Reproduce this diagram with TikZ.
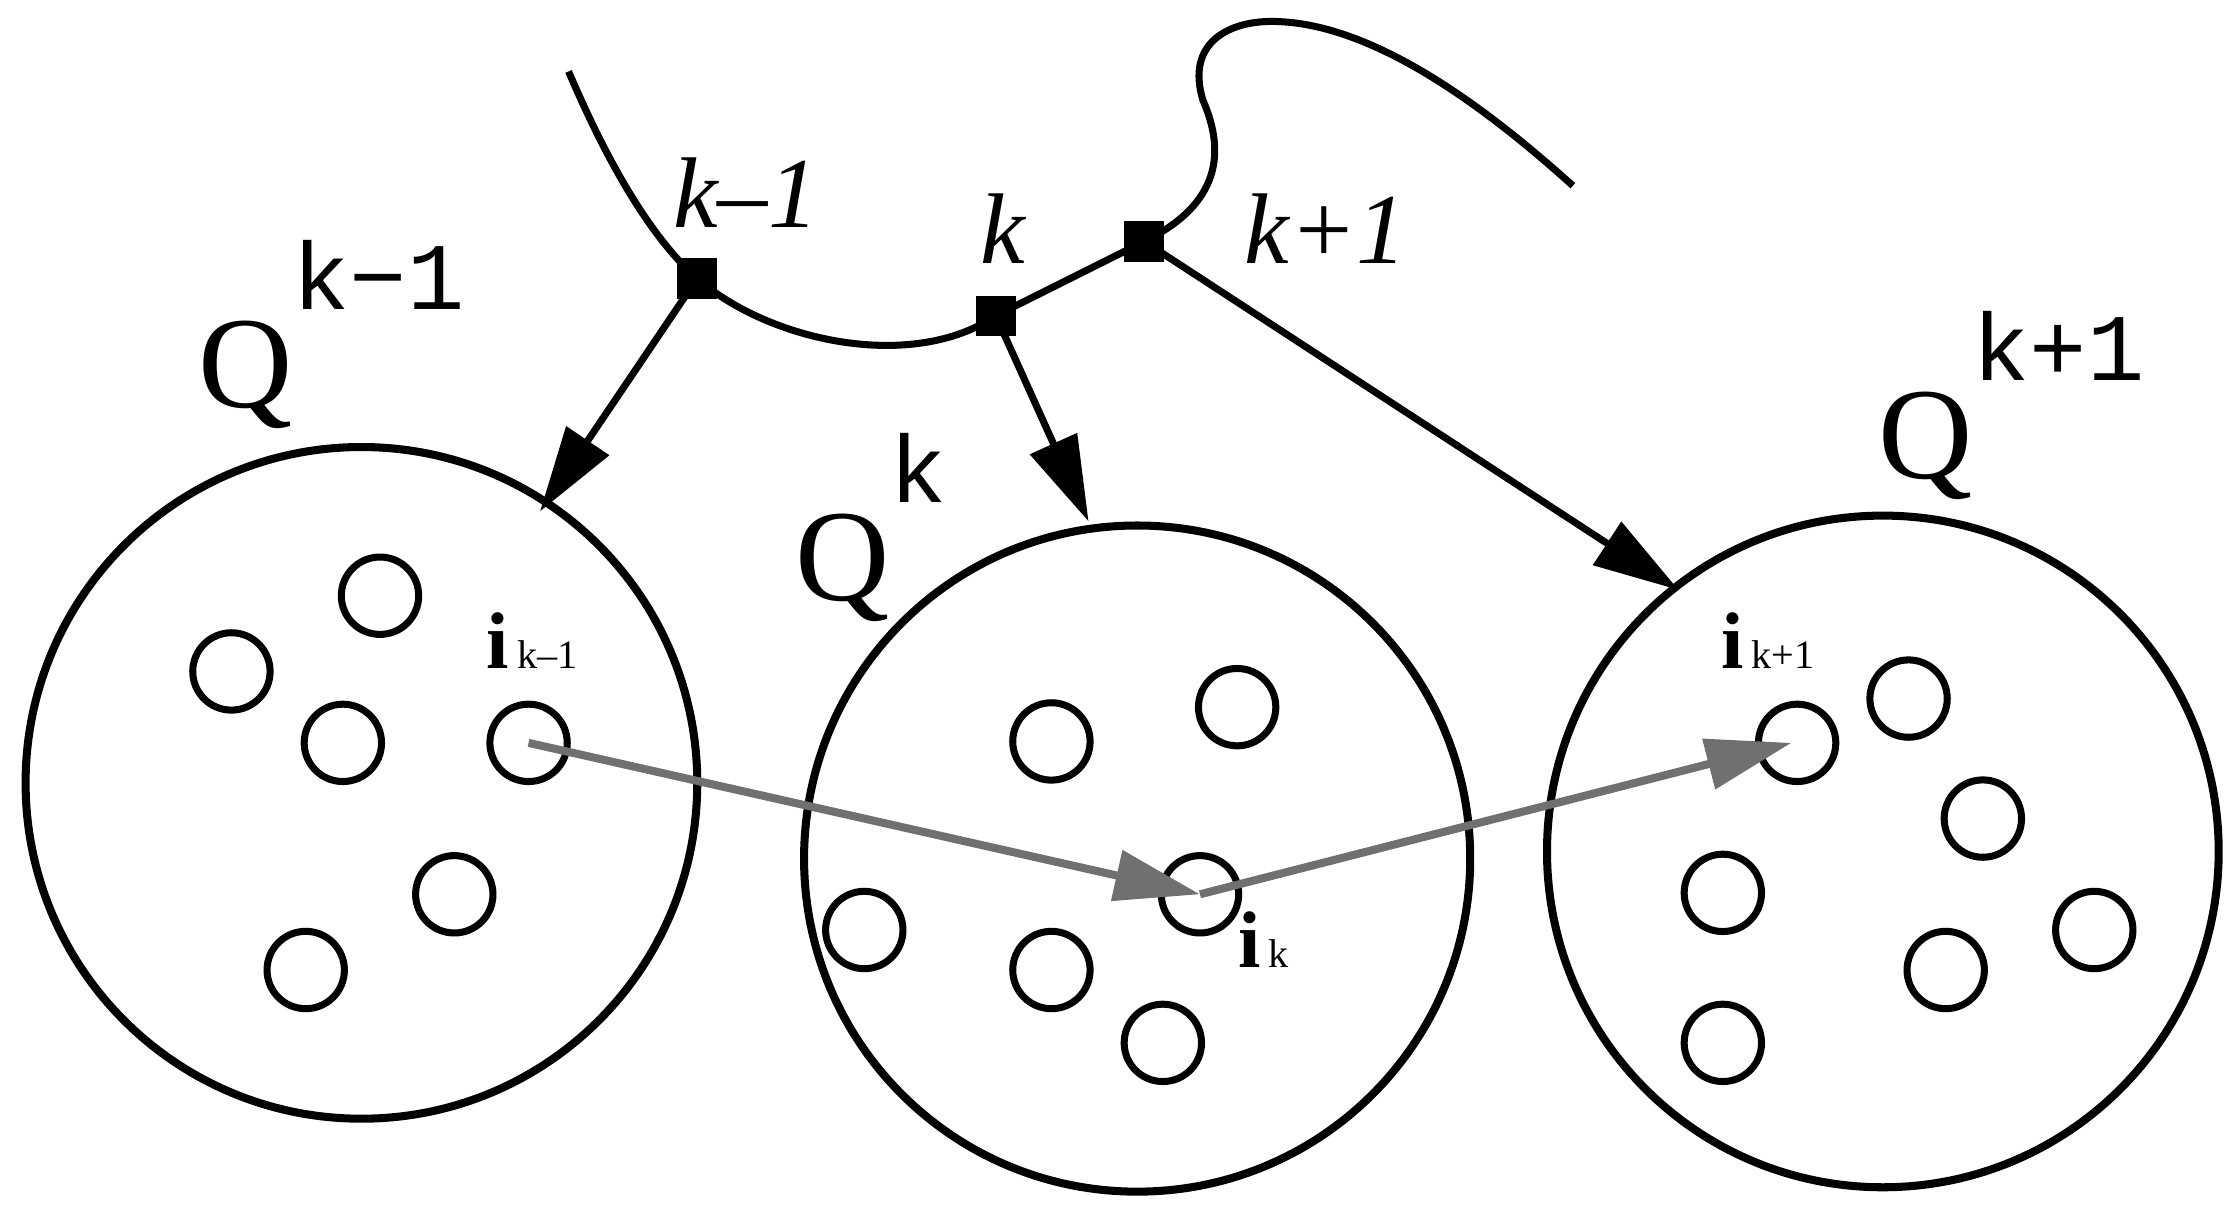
\documentclass[tikz,border=0pt]{standalone}
\usepackage{fontspec}
\setmainfont{Liberation Serif}
\newfontfamily\qfont{Liberation Mono}
\usetikzlibrary{arrows.meta}
\begin{document}
\begin{tikzpicture}[x=0.01cm,y=-0.01cm,
  big/.style={circle,draw,line width=1.6pt,minimum size=133.7pt,inner sep=0},
  sm/.style={circle,draw,line width=1.4pt,minimum size=15.4pt,inner sep=0},
  sq/.style={rectangle,fill=black,minimum size=8pt,inner sep=0},
  blk/.style={line width=1.4pt,-{Triangle[length=17pt,width=10pt]}},
  gry/.style={line width=1.6pt,draw=gray!60!black!80,-{Triangle[length=17pt,width=10pt,fill=gray!60!black!80]}},
  lab/.style={font=\fontsize{20}{20}\selectfont\itshape},
  Q/.style={font=\fontsize{26}{26}\selectfont}]
\useasboundingbox (0,0) rectangle (1568,857);
\node[big] (C1) at (253,548) {};
\node[big,minimum size=132.6pt] (C2) at (796,601) {};
\node[big] (C3) at (1318,596) {};
\foreach \n/\p in {a1/{266,417},a2/{162,470},a3/{240,520},a4/{370,520},a5/{318,626},a6/{214,679},
 b1/{736,519},b2/{866,495},b3/{605,651},b4/{840,626},b5/{736,679},b6/{814,730},
 c1/{1336,489},c2/{1388,573},c3/{1258,520},c4/{1206,625},c5/{1362,679},c6/{1466,651},c7/{1206,730}}
  \node[sm] (\n) at (\p) {};
\node[sq] (s1) at (488,195) {};
\node[sq] (s2) at (697,221) {};
\node[sq] (s3) at (801,169) {};
\coordinate (e1) at (398,50);
\coordinate (e2) at (1101,130);
\draw[line width=1.4pt] (e1) .. controls (430,125) and (460,170) .. (s1.center)
  .. controls (540,240) and (640,260) .. (s2.center) -- (s3.center)
  .. controls (860,140) and (855,100) .. (842,70)
  .. controls (830,30) and (860,15) .. (890,15)
  .. controls (960,15) and (1040,75) .. (e2);
\draw[blk] (s1.center) -- (378,358);
\draw[blk] (s2.center) -- (762,365);
\draw[blk] (s3.center) -- (1175,413);
\draw[gry] (a4.center) -- (b4.center);
\draw[gry] (b4.center) -- (1254,520);
\node[lab] (l1) at (522,135) {k‒1};
\node[lab] (l2) at (702,160) {k};
\node[lab] (l3) at (928,160) {k+1};
\node[Q,anchor=base west,inner sep=0] (q1) at (138,285) {Q\raisebox{0.75em}{\qfont\fontsize{19}{19}\selectfont k−1}};
\node[Q,anchor=base west,inner sep=0] (q2) at (556,420) {Q\raisebox{0.75em}{\qfont\fontsize{19}{19}\selectfont k}};
\node[Q,anchor=base west,inner sep=0] (q3) at (1314,335) {Q\raisebox{0.75em}{\qfont\fontsize{19}{19}\selectfont k+1}};
\node[anchor=base west,inner sep=0] (i1) at (340,468) {\textbf{\fontsize{16}{16}\selectfont i}\,{\fontsize{8}{8}\selectfont k‒1}};
\node[anchor=base west,inner sep=0] (i2) at (866,677) {\textbf{\fontsize{16}{16}\selectfont i}\,{\fontsize{8}{8}\selectfont k}};
\node[anchor=base west,inner sep=0] (i3) at (1204,468) {\textbf{\fontsize{16}{16}\selectfont i}\,{\fontsize{8}{8}\selectfont k+1}};
\end{tikzpicture}
\end{document}
